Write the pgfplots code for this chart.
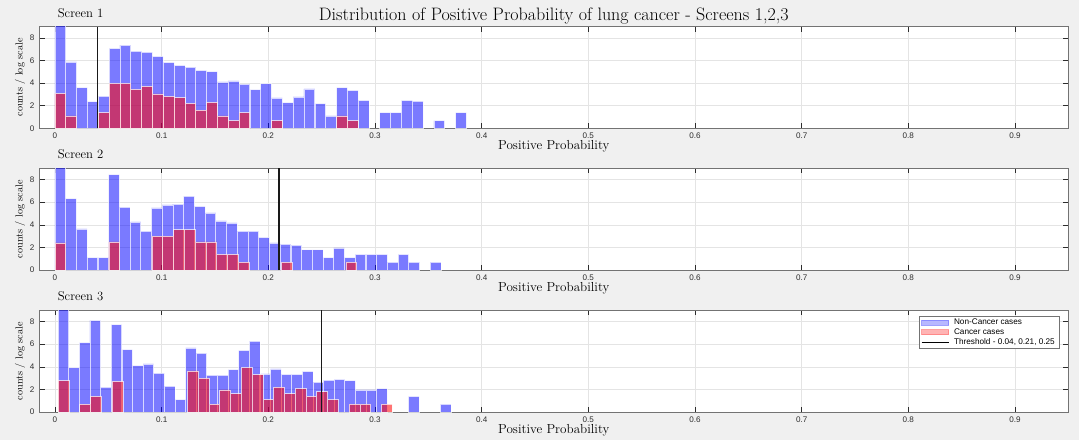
\documentclass[border=0pt]{standalone}
\usepackage{pgfplots}
\pgfplotsset{compat=1.18}
\usepackage{fontspec}
\newfontfamily\arialfont{Liberation Sans}

\definecolor{figbg}{RGB}{240,240,240}
\definecolor{axgray}{RGB}{45,45,45}
\definecolor{gridgray}{RGB}{228,228,228}
\definecolor{legblue}{RGB}{120,120,255}
\definecolor{legred}{RGB}{255,120,120}

\pgfplotsset{
  screen/.style={
    scale only axis, width=1028.5pt, height=101.7pt,
    anchor=south west,
    axis background/.style={fill=white},
    xmin=-0.0145, xmax=0.9497, ymin=0, ymax=9,
    xtick={0,0.1,0.2,0.3,0.4,0.5,0.6,0.7,0.8,0.9},
    ytick={0,2,4,6,8},
    xmajorgrids, ymajorgrids,
    major grid style={gridgray, line width=0.5pt},
    axis line style={black!55, line width=0.5pt},
    tick style={axgray, line width=0.5pt},
    tick align=inside, major tick length=5pt,
    clip mode=individual,
    /pgf/number format/assume math mode=true,
    ticklabel style={font=\arialfont\fontsize{8.1}{8.5}\selectfont, text=axgray, inner sep=0pt},
    xticklabel style={anchor=base, yshift=-10.5pt},
    yticklabel style={anchor=east, xshift=-5pt},
    xlabel={Positive Probability},
    xlabel style={font=\fontsize{13.1}{14}\selectfont, at={(axis description cs:0.5,0)}, anchor=base, yshift=-21.5pt},
    ylabel={counts / log scale},
    ylabel style={font=\fontsize{10.2}{12}\selectfont, at={(axis description cs:-0.019,0.5)}, anchor=center},
    title style={font=\fontsize{12.7}{14}\selectfont, at={(axis description cs:0,1)}, anchor=base west, xshift=14.8pt, yshift=3.5pt},
  },
  noncancer/.style={ybar, bar shift=0pt, bar width=#1, fill=blue, fill opacity=0.52,
    draw=white, draw opacity=0.7, line width=0.7pt,
    legend image code/.code={\fill[legblue] (0pt,-2.5pt) rectangle (27pt,2.5pt);}},
  cancer/.style={ybar, bar shift=0pt, bar width=#1, fill=red, fill opacity=0.55,
    draw=white, draw opacity=0.7, line width=0.7pt,
    legend image code/.code={\fill[legred] (0pt,-2.5pt) rectangle (27pt,2.5pt);}},
  threshold/.style={black!90, line width=1.6pt,
    legend image code/.code={\draw[black, line width=1pt] (0pt,0pt) -- (27pt,0pt);}},
}

\begin{document}
\begin{tikzpicture}
\fill[figbg] (0,0) rectangle (1079pt,440pt);
\useasboundingbox (0,0) rectangle (1079pt,440pt);

% Screen 1
\begin{axis}[screen, at={(39.5pt,311.7pt)}, title={Screen 1}]
\addplot[noncancer=0.01015] coordinates {
 (0.0051,9.6) (0.0152,5.88) (0.0254,3.6) (0.0355,2.36) (0.0457,2.84)
 (0.0558,7.07) (0.0660,7.36) (0.0761,6.84) (0.0863,6.74) (0.0964,6.36)
 (0.1066,5.83) (0.1167,5.57) (0.1269,5.42) (0.1370,5.13) (0.1472,5.01)
 (0.1573,4.10) (0.1675,4.19) (0.1776,3.92) (0.1878,3.42) (0.1979,3.95)
 (0.2081,2.69) (0.2182,2.28) (0.2284,2.78) (0.2385,3.48) (0.2487,2.19)
 (0.2588,1.10) (0.2690,3.60) (0.2791,3.36) (0.2893,2.48) (0.3096,1.39)
 (0.3197,1.39) (0.3299,2.48) (0.3400,2.40) (0.3603,0.69) (0.3806,1.39)};
\addplot[cancer=0.01015] coordinates {
 (0.0051,3.09) (0.0152,1.10) (0.0457,1.39) (0.0558,3.97) (0.0660,3.97)
 (0.0761,3.45) (0.0863,3.71) (0.0964,3.04) (0.1066,2.83) (0.1167,2.71)
 (0.1269,2.20) (0.1370,1.61) (0.1472,2.30) (0.1573,1.10) (0.1675,0.69)
 (0.1776,1.39) (0.2081,0.69) (0.2690,1.10) (0.2791,0.69)};
\addplot[threshold] coordinates {(0.04,0) (0.04,9)};
\node[anchor=base, yshift=6pt, font=\fontsize{18}{20}\selectfont]
  at (rel axis cs:0.5,1) {Distribution of Positive Probability of lung cancer - Screens 1,2,3};
\end{axis}

% Screen 2
\begin{axis}[screen, at={(39.5pt,170pt)}, title={Screen 2}]
\addplot[noncancer=0.01005] coordinates {
 (0.0050,9.6) (0.0151,6.31) (0.0251,3.64) (0.0352,1.10) (0.0452,1.10)
 (0.0553,8.44) (0.0653,5.56) (0.0754,4.26) (0.0854,3.43) (0.0955,5.50)
 (0.1055,5.76) (0.1156,5.82) (0.1256,6.53) (0.1357,5.64) (0.1457,5.05)
 (0.1558,4.34) (0.1658,4.17) (0.1759,3.45) (0.1859,3.45) (0.1960,2.89)
 (0.2060,2.40) (0.2161,2.30) (0.2261,2.20) (0.2362,1.79) (0.2462,1.79)
 (0.2563,1.10) (0.2663,1.95) (0.2764,1.10) (0.2864,1.39) (0.2965,1.39)
 (0.3065,1.39) (0.3166,0.69) (0.3266,1.39) (0.3367,0.69) (0.3568,0.69)};
\addplot[cancer=0.0101] coordinates {
 (0.0051,2.40) (0.0556,2.48) (0.0960,3.00) (0.1061,3.00) (0.1162,3.56)
 (0.1263,3.56) (0.1364,2.48) (0.1465,2.48) (0.1566,1.39) (0.1667,1.39)
 (0.1768,0.69) (0.2172,0.69) (0.2778,0.69)};
\addplot[threshold] coordinates {(0.21,0) (0.21,9)};
\end{axis}

% Screen 3
\begin{axis}[screen, at={(39.5pt,28pt)}, title={Screen 3},
  legend style={at={(1,1)}, anchor=north east, xshift=-9pt, yshift=-6pt,
    draw=black!55, line width=0.5pt, fill=white,
    font=\arialfont\fontsize{8.2}{8.8}\selectfont,
    inner xsep=2pt, inner ysep=0.5pt, row sep=-1.6pt,
    /tikz/every odd column/.append style={column sep=3pt}},
  legend cell align=left]
\addplot[noncancer=0.00995] coordinates {
 (0.0080,9.6) (0.0179,3.93) (0.0279,6.14) (0.0378,8.12) (0.0478,2.20)
 (0.0577,7.74) (0.0677,5.53) (0.0776,4.11) (0.0876,4.25) (0.0975,3.45)
 (0.1075,2.30) (0.1174,1.10) (0.1274,5.67) (0.1373,5.20) (0.1473,3.26)
 (0.1572,3.26) (0.1672,3.74) (0.1771,5.46) (0.1871,6.28) (0.1970,3.37)
 (0.2070,3.81) (0.2169,3.33) (0.2269,3.33) (0.2368,3.60) (0.2468,2.64)
 (0.2567,2.83) (0.2667,2.89) (0.2766,2.77) (0.2866,1.95) (0.2965,1.95)
 (0.3065,2.08) (0.3363,1.39) (0.3662,0.69)};
\addlegendentry{Non-Cancer cases}
\addplot[cancer=0.0101] coordinates {
 (0.0081,2.77) (0.0283,0.69) (0.0384,1.39) (0.0586,2.71) (0.1293,3.64)
 (0.1394,3.00) (0.1495,0.69) (0.1596,1.95) (0.1697,1.61) (0.1798,3.93)
 (0.1899,3.30) (0.2000,1.10) (0.2101,2.20) (0.2202,1.61) (0.2303,2.08)
 (0.2404,1.39) (0.2505,1.79) (0.2606,1.10) (0.2808,0.69) (0.2909,0.69)
 (0.3111,0.69)};
\addlegendentry{Cancer cases}
\addplot[threshold] coordinates {(0.25,0) (0.25,9)};
\addlegendentry{Threshold - 0.04, 0.21, 0.25}
\end{axis}
\end{tikzpicture}
\end{document}
